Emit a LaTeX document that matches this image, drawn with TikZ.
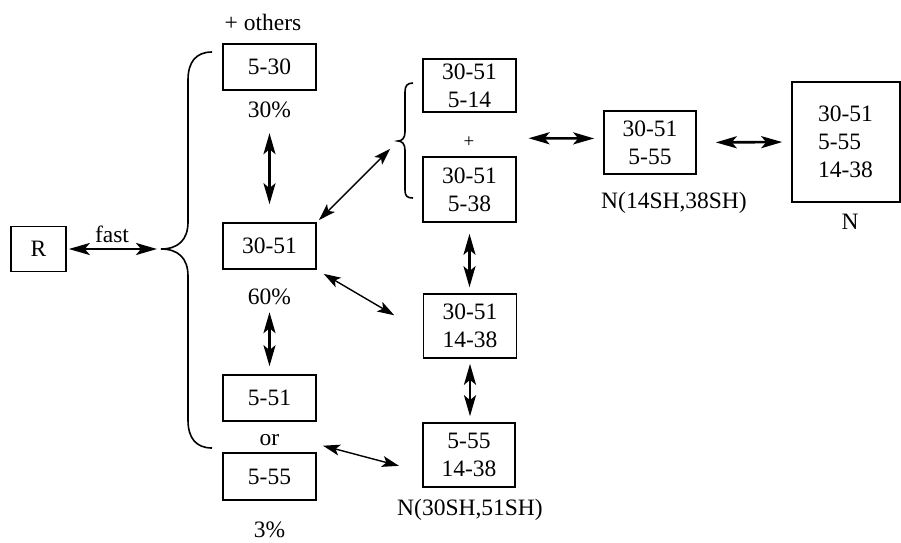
\documentclass[tikz,border=0pt]{standalone}
\usepackage{fontspec}
\setmainfont{Liberation Serif}
\usetikzlibrary{arrows.meta}
\begin{document}
\begin{tikzpicture}[x=1pt,y=-1pt,
  every node/.style={font=\fontsize{23.5}{28}\selectfont, inner sep=0pt},
  box/.style={draw, line width=1.6pt, align=center, minimum width=93pt},
  thk/.style={line width=2.6pt, {Stealth[length=21pt,width=12pt,inset=5pt]}-{Stealth[length=21pt,width=12pt,inset=5pt]}},
  thn/.style={line width=1.4pt, {Stealth[length=17pt,width=11pt,inset=4pt]}-{Stealth[length=17pt,width=11pt,inset=4pt]}},
  brace/.style={line width=1.6pt}]
\useasboundingbox (0,0) rectangle (901,542);
% boxes
\node[box, minimum width=55pt, minimum height=45pt] (R) at (38.5,249) {R};
\node[box, minimum height=46pt] (b530) at (269.5,67) {5-30};
\node[box, minimum height=46pt] (b3051) at (269.5,246) {30-51};
\node[box, minimum height=46pt] (b551) at (269.5,398) {5-51};
\node[box, minimum height=47pt] (b555) at (269.5,476.5) {5-55};
\node[box, minimum height=53pt] (b514) at (469.5,85.5) {30-51\\5-14};
\node[box, minimum height=65pt] (b538) at (469.5,189.5) {30-51\\5-38};
\node[box, minimum height=64pt] (b1438) at (470,326) {30-51\\14-38};
\node[box, minimum width=92pt, minimum height=64pt] (b5551438) at (469,455) {5-55\\14-38};
\node[box, minimum width=92pt, minimum height=63pt] (bmid) at (650,142.5) {30-51\\5-55};
\node[draw, line width=1.6pt, minimum width=108pt, minimum height=120pt, text width=56pt, align=left] (bN) at (846,142) {30-51\\5-55\\14-38};
% labels
\node (others) at (263,22) {+ others};
\node (p30) at (269.5,110) {30\%};
\node (fast) at (112,234) {fast};
\node (p60) at (269.5,297) {60\%};
\node (or) at (269.5,440) {or};
\node (p3) at (269.5,530) {3\%};
\node[font=\fontsize{19}{22}\selectfont] (plus) at (469,142) {+};
\node (n1) at (674,203) {N(14SH,38SH)};
\node (n2) at (470,510) {N(30SH,51SH)};
\node (nN) at (850,222) {N};
% braces
\coordinate (tipA) at (161,249);
\coordinate (tipB) at (398,141);
\draw[brace] (212,52) .. controls (196,52) and (188,62) .. (188,80) -- (188,222)
  .. controls (188,240) and (178,249) .. (tipA)
  .. controls (178,249) and (188,258) .. (188,276) -- (188,420)
  .. controls (188,438) and (196,448) .. (212,448);
\draw[brace] (413,83) .. controls (407,83) and (405,86) .. (405,92) -- (405,132)
  .. controls (405,138) and (402,141) .. (tipB)
  .. controls (402,141) and (405,144) .. (405,150) -- (405,190)
  .. controls (405,196) and (407,198) .. (413,198);
% arrows
\draw[thk, shorten <=2pt, shorten >=4pt] (R) -- (tipA);
\draw[thk, shorten <=15pt, shorten >=18pt] (p30) -- (b3051);
\draw[thk, shorten <=7pt, shorten >=8pt] (p60) -- (b551);
\draw[thn, shorten <=3pt, shorten >=11pt] (b3051.north east) -- (tipB);
\draw[thn, shorten <=8pt, shorten >=33pt] (b3051.south east) -- ([yshift=-6pt]b1438.west);
\draw[thn, shorten <=45pt, shorten >=24pt] (or.north east) -- ([yshift=-17pt]b5551438.west);
\draw[thk, shorten <=11pt, shorten >=6pt] (b538.south) -- (b538.south |- b1438.north);
\draw[thk, shorten <=5pt, shorten >=6pt] (b1438.south) -- (b1438.south |- b5551438.north);
\draw[thk, shorten <=54pt, shorten >=9pt] ([yshift=4pt]plus.east) -- ([yshift=4pt]bmid.west);
\draw[thk, shorten <=19pt, shorten >=9pt] (bmid.east) -- (bN.west);
\end{tikzpicture}
\end{document}
